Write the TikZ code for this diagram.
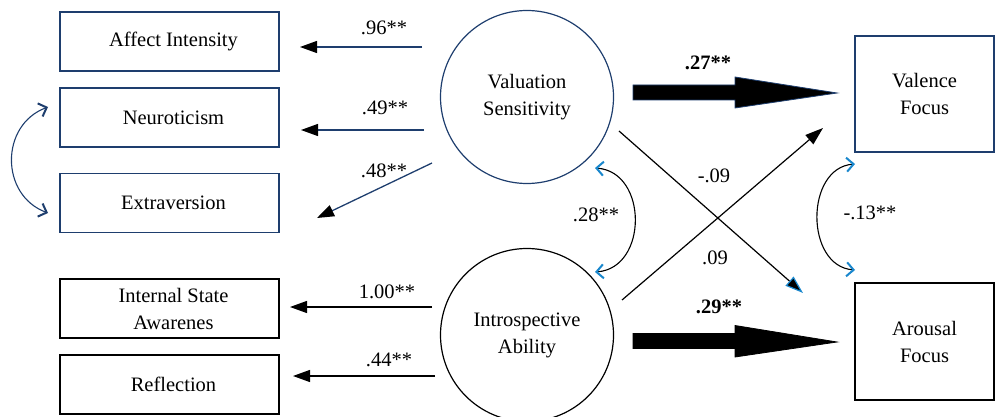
\documentclass[tikz,border=0pt]{standalone}
\usepackage{fontspec}
\setmainfont{Liberation Serif}
\usetikzlibrary{arrows.meta}
\definecolor{navy}{RGB}{30,62,110}
\definecolor{lblue}{RGB}{25,135,205}
\begin{document}
\begin{tikzpicture}[x=1pt,y=-1pt,
  font=\fontsize{20.5}{27}\selectfont,
  box/.style={draw, line width=1.3pt, minimum width=219pt, minimum height=59pt, inner sep=0pt, align=center},
  navybox/.style={box, draw=navy},
  latent/.style={circle, draw, line width=1.2pt, minimum size=173pt, inner sep=0pt, align=center},
  parr/.style={line width=1.3pt, -{Triangle[length=17pt,width=12pt,color=black]}},
  xarr/.style={line width=1.2pt, -{Triangle[length=18pt,width=12pt]}},
  covarr/.style={line width=1.1pt,
     {Straight Barb[length=7pt,width=14pt,line width=2pt,color=#1]}-{Straight Barb[length=7pt,width=14pt,line width=2pt,color=#1]}},
  lab/.style={inner sep=0pt},
  thick arrow/.style={fill=black, draw=#1, line width=0.8pt, line join=miter}
]
\useasboundingbox (0,0) rectangle (995,417);
\clip (0,0) rectangle (995,417);

% observed indicators
\node[navybox] (ai)  at (169.5,41.5) {\hspace*{8pt}Affect Intensity};
\node[navybox] (neu) at (169.5,117.5) {\hspace*{8pt}Neuroticism};
\node[navybox] (ext) at (169.5,203) {\hspace*{8pt}Extraversion};
\node[box] (isa) at (169.5,308.5) {\hspace*{8pt}Internal State\\\hspace*{8pt}Awarenes};
\node[box] (ref) at (169.5,384.5) {\hspace*{8pt}Reflection};

% latent variables
\node[latent, draw=navy] (vs) at (527,97) {Valuation\\Sensitivity};
\node[latent] (ia) at (527,335) {Introspective\\Ability};

% outcomes
\node[box, draw=navy, minimum width=139pt, minimum height=116pt] (vf) at (924.5,94) {Valence\\Focus};
\node[box, minimum width=139pt, minimum height=117pt] (af) at (924.5,341.5) {Arousal\\Focus};

% loading arrow end points
\coordinate (s96) at (422,47);  \coordinate (e96) at (300,47);
\coordinate (s49) at (424,130); \coordinate (e49) at (301,130);
\coordinate (s48) at (432,163); \coordinate (e48) at (317,218);
\coordinate (s100) at (432,307); \coordinate (e100) at (290,307);
\coordinate (s44) at (435,376); \coordinate (e44) at (293,376);

\draw[parr, navy] (s96) -- (e96);
\draw[parr, navy] (s49) -- (e49);
\draw[parr, navy] (s48) -- (e48);
\draw[parr] (s100) -- (e100);
\draw[parr] (s44) -- (e44);

\node[lab] (l96) at (384,28) {.96**};
\node[lab] (l49) at (385,108) {.49**};
\node[lab] (l48) at (384,171) {.48**};
\node[lab] (l100) at (387,292) {1.00**};
\node[lab] (l44) at (389,360) {.44**};

% covariance between Neuroticism and Extraversion
\coordinate (cn) at (48,107); \coordinate (ce) at (48,213);
\draw[covarr=navy, navy] (cn) .. controls (0,125) and (0,195) .. (ce);

% covariance between latent variables
\coordinate (cvs) at (595,168); \coordinate (cia) at (595,272);
\draw[covarr=lblue] (cvs) .. controls (648,172) and (648,268) .. (cia);
\node[lab] (l28) at (596,215) {.28**};

% covariance between outcomes
\coordinate (cvf) at (855,164); \coordinate (caf) at (855,270);
\draw[covarr=lblue] (cvf) .. controls (805,168) and (805,266) .. (caf);
\node[lab] (l13) at (870,213) {-.13**};

% structural paths: thick arrows
\coordinate (t27) at (633,92.5);
\path[thick arrow=navy] (t27) ++(0,-7.5) -- ++(102,0) -- ++(0,-8) -- (837,93) -- (735,108) -- (735,100) -- (633,100) -- cycle;
\node[lab, font=\fontsize{20.5}{27}\selectfont\bfseries] (l27) at (708,63) {.27**};

\coordinate (t29) at (633,341);
\path[thick arrow=black] (t29) ++(0,-7.5) -- ++(102,0) -- ++(0,-8) -- (837,342) -- (735,357) -- (735,348.5) -- (633,348.5) -- cycle;
\node[lab, font=\fontsize{20.5}{27}\selectfont\bfseries] (l29) at (719,307) {.29**};

% cross paths
\coordinate (sx1) at (619,131); \coordinate (ex1) at (803,293);
\coordinate (sx2) at (622,300); \coordinate (ex2) at (823,128);
\draw[line width=1.2pt, -{Triangle[length=18pt,width=12pt,color=lblue,fill=black]}] (sx1) -- (ex1);
\draw[xarr] (sx2) -- (ex2);
\node[lab] (l09a) at (714,176) {-.09};
\node[lab] (l09b) at (715,258) {.09};
\end{tikzpicture}
\end{document}
